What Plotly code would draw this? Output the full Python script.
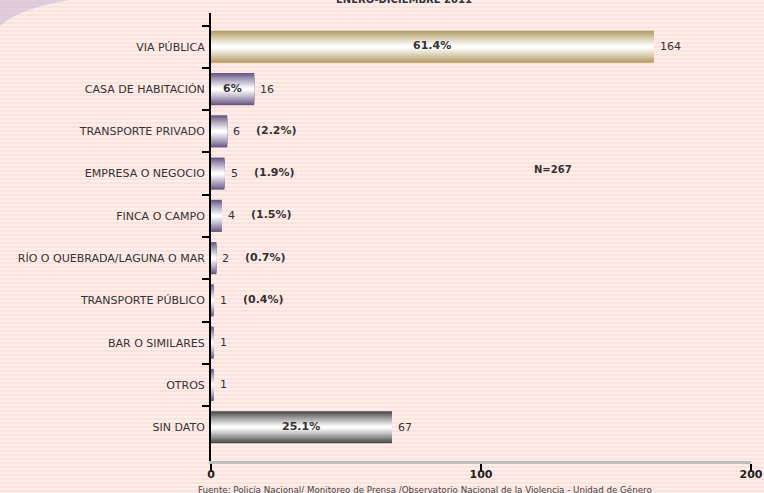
import plotly.graph_objects as go

categories = ["VIA PÚBLICA", "CASA DE HABITACIÓN", "TRANSPORTE PRIVADO", "EMPRESA O NEGOCIO",
              "FINCA O CAMPO", "RÍO O QUEBRADA/LAGUNA O MAR", "TRANSPORTE PÚBLICO",
              "BAR O SIMILARES", "OTROS", "SIN DATO"]
values = [164, 16, 6, 5, 4, 2, 1, 1, 1, 67]
pct_labels = ["61.4%", "6%", "(2.2%)", "(1.9%)", "(1.5%)", "(0.7%)", "(0.4%)", "", "", "25.1%"]
color_group = ["gold", "purple", "purple", "purple", "purple", "purple", "purple", "purple", "purple", "gray"]
x_ticks = [0, 100, 200]
title_text = "ENERO-DICIEMBRE 2011"
n_text = "N=267"
source_text = "Fuente: Policía Nacional/ Monitoreo de Prensa /Observatorio Nacional de la Violencia - Unidad de Género"

W, H = 764, 493
ML, MR, MT, MB = 211, 13, 13, 32
PH = H - MT - MB
PW = W - ML - MR

edge_rgb = {"gold": (178, 156, 98), "purple": (104, 88, 132), "gray": (72, 72, 72)}
BAR_W = 0.76
N_LAYERS = 12


def mix(c, t):
    # t=0 -> edge colour, t=1 -> white
    return "rgb(%d,%d,%d)" % tuple(int(round(v + (255 - v) * t)) for v in c)


fig = go.Figure()
for k in range(N_LAYERS):
    frac = k / N_LAYERS
    w = BAR_W * (1 - frac)
    t = (k / (N_LAYERS - 1)) ** 0.9
    cols = [mix(edge_rgb[g], t) for g in color_group]
    fig.add_trace(go.Bar(
        x=values, y=categories, orientation="h", width=w,
        marker=dict(color=cols, line=dict(width=0)),
        hoverinfo="skip", showlegend=False,
    ))

annotations = []
for cat, v, p in zip(categories, values, pct_labels):
    annotations.append(dict(x=v, y=cat, xref="x", yref="y", text=str(v), showarrow=False,
                            xanchor="left", xshift=4, font=dict(family="DejaVu Sans", size=11, color="#333333")))
    if p:
        if p.startswith("("):
            annotations.append(dict(x=v, y=cat, xref="x", yref="y", text="<b>%s</b>" % p, showarrow=False,
                                    xanchor="left", xshift=27, yshift=1,
                                    font=dict(family="DejaVu Sans", size=11, color="#333333")))
        else:
            annotations.append(dict(x=v / 2, y=cat, xref="x", yref="y", text="<b>%s</b>" % p, showarrow=False,
                                    xanchor="center", yshift=1,
                                    font=dict(family="DejaVu Sans", size=11, color="#333333")))


def px2paper(xp, yp):
    return (xp - ML) / PW, (H - MB - yp) / PH


nx, ny = px2paper(553, 169)
annotations.append(dict(x=nx, y=ny, xref="paper", yref="paper",
                        text="<b>%s</b>" % n_text, showarrow=False,
                        font=dict(family="DejaVu Sans", size=10, color="#333333")))
tx, ty = px2paper(404, 0)
annotations.append(dict(x=tx, y=ty, xref="paper", yref="paper",
                        text="<b>%s</b>" % title_text, showarrow=False, yanchor="middle",
                        font=dict(family="DejaVu Sans", size=10, color="#333333")))
sx, sy = px2paper(425, 490)
annotations.append(dict(x=sx, y=sy, xref="paper", yref="paper",
                        text=source_text, showarrow=False, yanchor="middle",
                        font=dict(family="DejaVu Sans", size=8.7, color="#444444")))

shapes = []
# striped background
x0p, _ = px2paper(0, 0)
x1p, _ = px2paper(W, 0)
for ypx in range(0, H, 4):
    _, y0p = px2paper(0, ypx)
    _, y1p = px2paper(0, ypx + 2)
    shapes.append(dict(type="rect", xref="paper", yref="paper", layer="below",
                       x0=x0p, x1=x1p, y0=y0p, y1=y1p,
                       fillcolor="#fdeeea", line=dict(width=0)))
# top-left swoosh decoration
p = [px2paper(0, 0), px2paper(70, 0), px2paper(20, 8), px2paper(0, 26)]
path = "M %f,%f L %f,%f Q %f,%f %f,%f Z" % (p[0][0], p[0][1], p[1][0], p[1][1], p[2][0], p[2][1], p[3][0], p[3][1])
shapes.append(dict(type="path", xref="paper", yref="paper", path=path, layer="below",
                   fillcolor="rgba(200,180,210,0.55)", line=dict(width=0)))

fig.update_layout(
    width=W, height=H,
    margin=dict(l=ML, r=MR, t=MT, b=MB, pad=0, autoexpand=False),
    barmode="overlay",
    paper_bgcolor="#fce2de",
    plot_bgcolor="rgba(0,0,0,0)",
    annotations=annotations,
    shapes=shapes,
    xaxis=dict(range=[0, 200], tickvals=x_ticks, ticktext=["<b>%d</b>" % t for t in x_ticks],
               ticks="outside", ticklen=8, tickwidth=2, tickcolor="black", automargin=False,
               ticklabelstandoff=-7,
               showline=True, linecolor="#bdbdbd", linewidth=3, showgrid=False, zeroline=False,
               tickfont=dict(family="DejaVu Sans", size=11, color="#222222")),
    yaxis=dict(type="category", categoryorder="array", categoryarray=categories,
               range=[9.8, -0.8], tickson="boundaries", ticks="outside", ticklen=7, tickwidth=2,
               tickcolor="black", showline=True, linecolor="black", linewidth=2, showgrid=False,
               ticklabelstandoff=2, automargin=False,
               tickfont=dict(family="DejaVu Sans", size=11, color="#333333")),
)

fig.write_html("out.html", config={"displayModeBar": False},
               post_script="document.body.style.margin='0px';document.body.style.background='#fce2de';")
